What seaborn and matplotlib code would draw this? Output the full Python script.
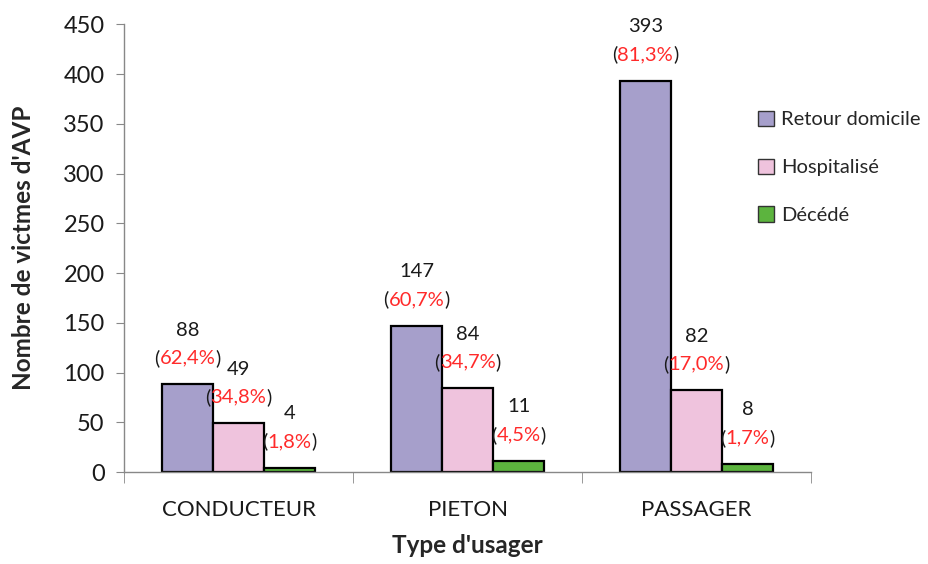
import pandas as pd
import numpy as np
import matplotlib.pyplot as plt
import seaborn as sns

categories = ['CONDUCTEUR', 'PIETON', 'PASSAGER']
statuts = ['Retour domicile', 'Hospitalisé', 'Décédé']
retour = [88, 147, 393]
hospit = [49, 84, 82]
deces = [4, 11, 8]
pct_retour = ['62,4%', '60,7%', '81,3%']
pct_hospit = ['34,8%', '34,7%', '17,0%']
pct_deces = ['1,8%', '4,5%', '1,7%']
colors = ['#a69fcb', '#efc3dd', '#5cb43e']

rows = []
for vals, pcts, s in zip([retour, hospit, deces], [pct_retour, pct_hospit, pct_deces], statuts):
    for c, v, p in zip(categories, vals, pcts):
        rows.append({'Type': c, 'Statut': s, 'Nombre': v, 'Pct': p})
df = pd.DataFrame(rows)

sns.set_style('white')
plt.rcParams['font.family'] = ['Lato', 'DejaVu Sans']

fig = plt.figure(figsize=(9.29, 5.64), dpi=100)
ax = fig.add_axes([0.1335, 0.163, 0.7395, 0.794])

sns.barplot(data=df, x='Type', y='Nombre', hue='Statut', order=categories,
            hue_order=statuts, palette=colors, saturation=1, width=0.67, gap=0,
            edgecolor='black', linewidth=1.6, ax=ax, legend=False)

ax.set_xlim(-0.5, 2.5)
ax.set_ylim(0, 450)
ax.set_yticks(np.arange(0, 451, 50))
ax.tick_params(axis='y', labelsize=17, colors='#888888', labelcolor='#1a1a1a',
               direction='out', length=6, left=True, pad=8)
ax.tick_params(axis='x', which='major', labelsize=16, labelcolor='#1a1a1a',
               length=0, pad=20)
ax.set_xticks([-0.5, 0.5, 1.5, 2.5], minor=True)
ax.tick_params(axis='x', which='minor', direction='out', length=8,
               colors='#888888', bottom=True)
for s in ['top', 'right']:
    ax.spines[s].set_visible(False)
for s in ['left', 'bottom']:
    ax.spines[s].set_color('#888888')
    ax.spines[s].set_linewidth(1)

ax.set_ylabel("Nombre de victmes d'AVP", fontsize=17.5, fontweight='bold', labelpad=20)
ax.set_xlabel("Type d'usager", fontsize=17.5, fontweight='bold', labelpad=10)

fs = 14.5
for cont, s in zip(ax.containers, statuts):
    sub = df[df['Statut'] == s].set_index('Type').loc[categories]
    for bar, v, p in zip(cont, sub['Nombre'], sub['Pct']):
        x = bar.get_x() + bar.get_width() / 2
        y = bar.get_height()
        ax.annotate(str(v), (x, y), xytext=(0, 39), textcoords='offset points',
                    ha='center', va='center', fontsize=fs, color='#1a1a1a')
        t = ax.annotate(p, (x, y), xytext=(0, 19), textcoords='offset points',
                        ha='center', va='center', fontsize=fs, color='#ff2a2a')
        ax.annotate('(', xy=(0, 0.5), xycoords=t, ha='right', va='center',
                    fontsize=fs, color='#1a1a1a')
        ax.annotate(')', xy=(1, 0.5), xycoords=t, ha='left', va='center',
                    fontsize=fs, color='#1a1a1a')

handles = [plt.Rectangle((0, 0), 1, 1, facecolor=c, edgecolor='#333333', linewidth=1)
           for c in colors]
fig.legend(handles, statuts, loc='upper left', bbox_to_anchor=(0.796, 0.836),
           frameon=False, fontsize=14.5, labelspacing=1.5, handlelength=0.8,
           handleheight=0.8, handletextpad=0.35)

plt.savefig('out.png', dpi=100)
plt.close()
